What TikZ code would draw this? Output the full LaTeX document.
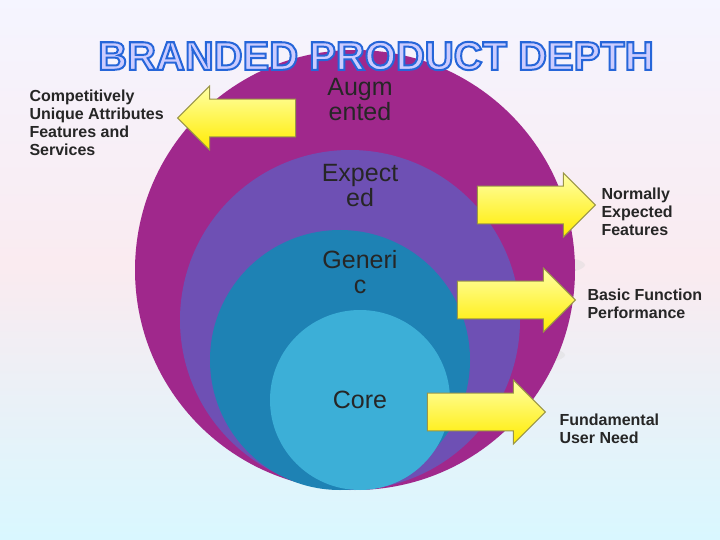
\documentclass[tikz,border=0pt]{standalone}
\usepackage{fontspec}
\setmainfont{Liberation Sans}
\usetikzlibrary{shapes.arrows}
\begin{document}
\begin{tikzpicture}[x=1pt,y=-1pt,
  lbl/.style={font=\bfseries\fontsize{16}{18}\selectfont, align=left, anchor=north west, text=black!85},
  ring/.style={font=\fontsize{25}{25}\selectfont, align=center, text=black!85},
  yarrow/.style={single arrow, draw=yellow!55!black, line width=1pt, top color=yellow!35, bottom color=yellow!85!orange,
     minimum height=118pt, minimum width=64pt, single arrow head extend=13pt, inner sep=0pt}]
\path[use as bounding box, top color=white!80!blue!20, bottom color=blue!20!cyan!15, middle color=purple!8] (0,0) rectangle (720,540);
\fill[fill=black!15, opacity=.4] (228,180) ellipse (45 and 10);
\fill[fill=black!15, opacity=.4] (535,265) ellipse (50 and 10);
\fill[fill=black!15, opacity=.4] (515,355) ellipse (50 and 10);
\node[circle, fill={rgb,255:red,160;green,40;blue,140}, minimum size=440pt, inner sep=0pt] (c1) at (355,270) {};
\node[circle, fill={rgb,255:red,110;green,80;blue,180}, minimum size=340pt, inner sep=0pt] (c2) at (350,320) {};
\node[circle, fill={rgb,255:red,30;green,130;blue,180}, minimum size=260pt, inner sep=0pt] (c3) at (340,360) {};
\node[circle, fill={rgb,255:red,60;green,175;blue,215}, minimum size=180pt, inner sep=0pt] (c4) at (360,400) {};
\node[font=\bfseries\fontsize{40}{40}\selectfont, text=white!80!blue] (title) at (376,56) {\special{pdf:literal direct 2 Tr 2 w 0.15 0.4 0.85 RG}BRANDED PRODUCT DEPTH\special{pdf:literal direct 0 Tr}};
\node[ring] (aug) at (360,100) {Augm\\ented};
\node[ring] (exp) at (360,186) {Expect\\ed};
\node[ring] (gen) at (360,272) {Generi\\c};
\node[ring] (core) at (360,400) {Core};
\node[yarrow, shape border rotate=180] (a1) at (246,118) {\rule{0pt}{36pt}};
\node[yarrow] (a2) at (527,205) {\rule{0pt}{36pt}};
\node[yarrow] (a3) at (507,300) {\rule{0pt}{36pt}};
\node[yarrow] (a4) at (477,412) {\rule{0pt}{36pt}};
\node[lbl] (l1) at (26,86) {Competitively\\Unique Attributes\\Features and\\Services};
\node[lbl] (l2) at (598,184) {Normally\\Expected\\Features};
\node[lbl] (l3) at (584,285) {Basic Function\\Performance};
\node[lbl] (l4) at (556,410) {Fundamental\\User Need};
\end{tikzpicture}
\end{document}
